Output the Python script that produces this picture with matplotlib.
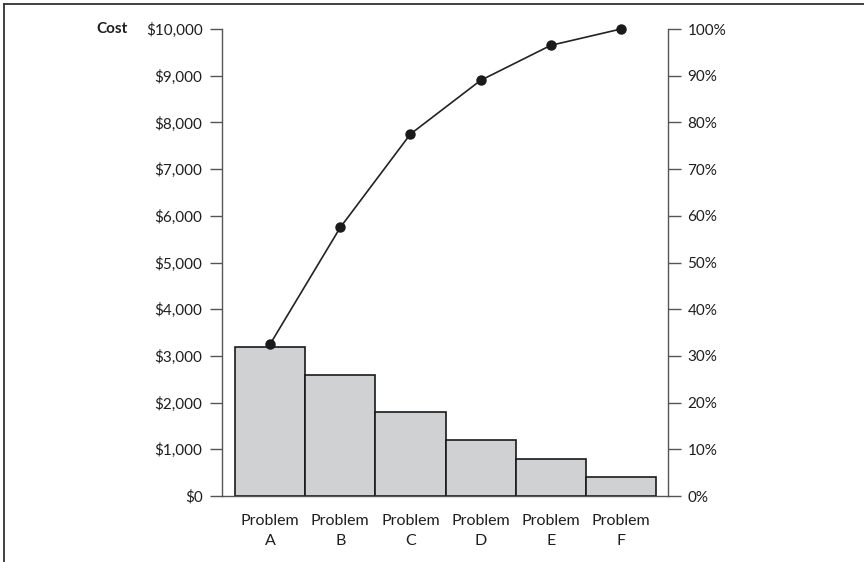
import matplotlib
matplotlib.use("Agg")
import matplotlib.pyplot as plt
from matplotlib.lines import Line2D
from matplotlib.ticker import FuncFormatter, MultipleLocator

categories = ["Problem\nA", "Problem\nB", "Problem\nC", "Problem\nD", "Problem\nE", "Problem\nF"]
costs = [3200, 2600, 1800, 1200, 800, 400]
cumulative_pct = [32.5, 57.5, 77.5, 89, 96.5, 100]

plt.rcParams['font.family'] = ['Lato', 'DejaVu Sans']

W, H = 864, 562
fig = plt.figure(figsize=(W / 100, H / 100), dpi=100)
ax = fig.add_axes([222 / W, 1 - 496 / H, (668 - 222) / W, (496 - 29) / H])

x = list(range(len(categories)))
ax.bar(x, costs, width=1.0, color="#d0d1d3", edgecolor="#1a1a1a", linewidth=1.2, zorder=2)
ax.set_xlim(-0.685, 5.67)
ax.set_ylim(0, 10000)

ax2 = ax.twinx()
ax2.set_ylim(0, 100)
ax2.plot(x, cumulative_pct, color="#222222", linewidth=1.2, marker="o",
         markersize=6.5, markerfacecolor="#1a1a1a", markeredgecolor="#1a1a1a",
         zorder=5, clip_on=False)

spine_col = "#555555"
for a in (ax, ax2):
    a.spines['top'].set_visible(False)
    for s in ('left', 'right', 'bottom'):
        a.spines[s].set_color(spine_col)
        a.spines[s].set_linewidth(1.0)

ax.spines['right'].set_visible(False)
ax2.spines['left'].set_visible(False)
ax2.spines['bottom'].set_visible(False)

ax.yaxis.set_major_locator(MultipleLocator(1000))
ax.yaxis.set_major_formatter(FuncFormatter(lambda v, p: f"${int(v):,}"))
ax2.yaxis.set_major_locator(MultipleLocator(10))
ax2.yaxis.set_major_formatter(FuncFormatter(lambda v, p: f"{int(v)}%"))

ax.tick_params(axis='y', direction='out', length=9, width=1.0, color=spine_col,
               labelsize=11, labelcolor="#1e1e1e", pad=5)
ax2.tick_params(axis='y', direction='out', length=9, width=1.0, color=spine_col,
                labelsize=11, labelcolor="#1e1e1e", pad=5)
ax.set_xticks(x)
ax.set_xticklabels(categories, fontsize=11.5, color="#1e1e1e", linespacing=1.55)
ax.tick_params(axis='x', length=0, pad=13)

ax.text(-0.211, 1.0, "Cost", transform=ax.transAxes, fontsize=11, fontweight='bold',
        ha='right', va='center', color="#1e1e1e")

# frame lines on top and left of figure
fig.add_artist(Line2D([4 / W, 4 / W], [0, 1 - 4 / H], transform=fig.transFigure,
                      color="#333333", linewidth=1.3))
fig.add_artist(Line2D([4 / W, 1], [1 - 4 / H, 1 - 4 / H], transform=fig.transFigure,
                      color="#333333", linewidth=1.3))

fig.savefig("out.png", dpi=100)
